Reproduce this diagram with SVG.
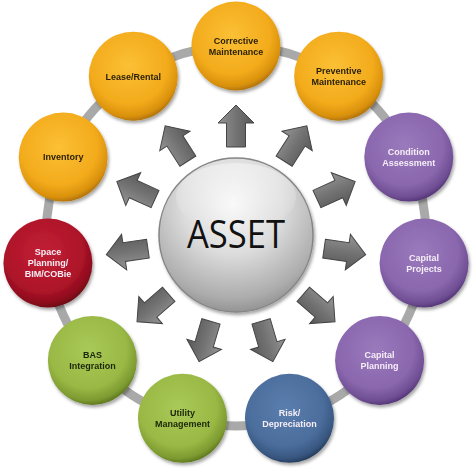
<svg xmlns="http://www.w3.org/2000/svg" width="474" height="469" viewBox="0 0 474 469">
<style>
  .lbl { font-family: "Liberation Sans", Arial, sans-serif; font-weight: bold; font-size: 9px; text-anchor: middle; }
  .dark { fill: #2c2208; }
  .darkg { fill: #1c2608; }
  .light { fill: #f6eef6; }
  .node { filter: url(#shadow); }
  .ring { fill: none; stroke: #a9a9a9; stroke-width: 9; }
  .arrow { fill: url(#gArrow); stroke: #454545; stroke-width: 1; stroke-linejoin: miter; }
  .gloss { fill: url(#gGloss); }
</style>
<defs>
  <filter id="shadow" x="-20%" y="-20%" width="150%" height="150%">
    <feDropShadow dx="1.5" dy="2.5" stdDeviation="1.8" flood-color="#000" flood-opacity="0.35"/>
  </filter>
  <radialGradient id="gYellow" cx="45%" cy="38%" r="62%">
    <stop offset="0" stop-color="#fbc035"/>
    <stop offset="0.7" stop-color="#f3ab1c"/>
    <stop offset="0.92" stop-color="#d9910c"/>
    <stop offset="1" stop-color="#b57607"/>
  </radialGradient>
  <radialGradient id="gPurple" cx="45%" cy="38%" r="62%">
    <stop offset="0" stop-color="#9a79bc"/>
    <stop offset="0.7" stop-color="#8a67ae"/>
    <stop offset="0.92" stop-color="#6f4e93"/>
    <stop offset="1" stop-color="#57397a"/>
  </radialGradient>
  <radialGradient id="gRed" cx="45%" cy="38%" r="62%">
    <stop offset="0" stop-color="#c12034"/>
    <stop offset="0.7" stop-color="#ae1429"/>
    <stop offset="0.92" stop-color="#8c0c1d"/>
    <stop offset="1" stop-color="#6e0714"/>
  </radialGradient>
  <radialGradient id="gGreen" cx="45%" cy="38%" r="62%">
    <stop offset="0" stop-color="#a9c958"/>
    <stop offset="0.7" stop-color="#99b844"/>
    <stop offset="0.92" stop-color="#7c9a30"/>
    <stop offset="1" stop-color="#627b22"/>
  </radialGradient>
  <radialGradient id="gBlue" cx="45%" cy="38%" r="62%">
    <stop offset="0" stop-color="#5a7eae"/>
    <stop offset="0.7" stop-color="#4b6d9c"/>
    <stop offset="0.92" stop-color="#37567f"/>
    <stop offset="1" stop-color="#283f60"/>
  </radialGradient>
  <radialGradient id="gCenter" cx="48%" cy="30%" r="72%">
    <stop offset="0" stop-color="#f8f8f8"/>
    <stop offset="0.45" stop-color="#dcdcdc"/>
    <stop offset="0.85" stop-color="#acacac"/>
    <stop offset="1" stop-color="#8e8e8e"/>
  </radialGradient>
  <linearGradient id="gGloss" x1="0" y1="0" x2="0" y2="1">
    <stop offset="0" stop-color="#ffffff" stop-opacity="0.4"/>
    <stop offset="1" stop-color="#ffffff" stop-opacity="0"/>
  </linearGradient>
  <linearGradient id="gArrow" x1="0" y1="0" x2="0" y2="1">
    <stop offset="0" stop-color="#959595"/>
    <stop offset="0.5" stop-color="#737373"/>
    <stop offset="1" stop-color="#585858"/>
  </linearGradient>
  <path id="arrowShape" class="arrow" d="M -21 -9.5 L 3 -9.5 L 3 -18 L 21 0 L 3 18 L 3 9.5 L -21 9.5 Z"/>
  <circle id="disc" r="44.5"/>
</defs>

<g id="connectors">
  <circle class="ring" cx="236" cy="236" r="190"/>
  <g transform="translate(236,236)">
    <use href="#arrowShape" transform="rotate(-90) translate(110,0)"/>
    <use href="#arrowShape" transform="rotate(-57.27) translate(110,0)"/>
    <use href="#arrowShape" transform="rotate(-24.55) translate(110,0)"/>
    <use href="#arrowShape" transform="rotate(8.18) translate(110,0)"/>
    <use href="#arrowShape" transform="rotate(40.91) translate(110,0)"/>
    <use href="#arrowShape" transform="rotate(73.64) translate(110,0)"/>
    <use href="#arrowShape" transform="rotate(106.36) translate(110,0)"/>
    <use href="#arrowShape" transform="rotate(139.09) translate(110,0)"/>
    <use href="#arrowShape" transform="rotate(171.82) translate(110,0)"/>
    <use href="#arrowShape" transform="rotate(204.55) translate(110,0)"/>
    <use href="#arrowShape" transform="rotate(237.27) translate(110,0)"/>
  </g>
</g>

<g id="node-asset" transform="translate(236,235)">
  <circle r="77" fill="url(#gCenter)" stroke="#858585" stroke-width="1.5" class="node"/>
  <ellipse cx="0" cy="-38" rx="60" ry="34" class="gloss"/>
  <text x="0" y="13" font-family="'Open Sans', 'Liberation Sans', sans-serif" font-size="38" fill="#111111" text-anchor="middle" textLength="98" lengthAdjust="spacingAndGlyphs">ASSET</text>
</g>

<g id="node-corrective" class="node" transform="translate(236,46)">
  <use href="#disc" fill="url(#gYellow)"/>
  <text class="lbl dark" x="0" y="-2.2">Corrective</text>
  <text class="lbl dark" x="0" y="8.8">Maintenance</text>
</g>
<g id="node-preventive" class="node" transform="translate(338.7,76.2)">
  <use href="#disc" fill="url(#gYellow)"/>
  <text class="lbl dark" x="0" y="-2.2">Preventive</text>
  <text class="lbl dark" x="0" y="8.8">Maintenance</text>
</g>
<g id="node-condition" class="node" transform="translate(408.8,157.1)">
  <use href="#disc" fill="url(#gPurple)"/>
  <text class="lbl light" x="0" y="-2.2">Condition</text>
  <text class="lbl light" x="0" y="8.8">Assessment</text>
</g>
<g id="node-capital-projects" class="node" transform="translate(424.1,263)">
  <use href="#disc" fill="url(#gPurple)"/>
  <text class="lbl light" x="0" y="-2.2">Capital</text>
  <text class="lbl light" x="0" y="8.8">Projects</text>
</g>
<g id="node-capital-planning" class="node" transform="translate(379.6,360.4)">
  <use href="#disc" fill="url(#gPurple)"/>
  <text class="lbl light" x="0" y="-2.2">Capital</text>
  <text class="lbl light" x="0" y="8.8">Planning</text>
</g>
<g id="node-risk" class="node" transform="translate(289.5,418.3)">
  <use href="#disc" fill="url(#gBlue)"/>
  <text class="lbl light" x="0" y="-2.2">Risk/</text>
  <text class="lbl light" x="0" y="8.8">Depreciation</text>
</g>
<g id="node-utility" class="node" transform="translate(182.5,418.3)">
  <use href="#disc" fill="url(#gGreen)"/>
  <text class="lbl darkg" x="0" y="-2.2">Utility</text>
  <text class="lbl darkg" x="0" y="8.8">Management</text>
</g>
<g id="node-bas" class="node" transform="translate(92.4,360.4)">
  <use href="#disc" fill="url(#gGreen)"/>
  <text class="lbl darkg" x="0" y="-2.2">BAS</text>
  <text class="lbl darkg" x="0" y="8.8">Integration</text>
</g>
<g id="node-space" class="node" transform="translate(47.9,263)">
  <use href="#disc" fill="url(#gRed)"/>
  <text class="lbl light" x="0" y="-7.7">Space</text>
  <text class="lbl light" x="0" y="3.3">Planning/</text>
  <text class="lbl light" x="0" y="14.3">BIM/COBie</text>
</g>
<g id="node-inventory" class="node" transform="translate(63.2,157.1)">
  <use href="#disc" fill="url(#gYellow)"/>
  <text class="lbl dark" x="0" y="3.3">Inventory</text>
</g>
<g id="node-lease" class="node" transform="translate(133.3,76.2)">
  <use href="#disc" fill="url(#gYellow)"/>
  <text class="lbl dark" x="0" y="3.3">Lease/Rental</text>
</g>
</svg>
